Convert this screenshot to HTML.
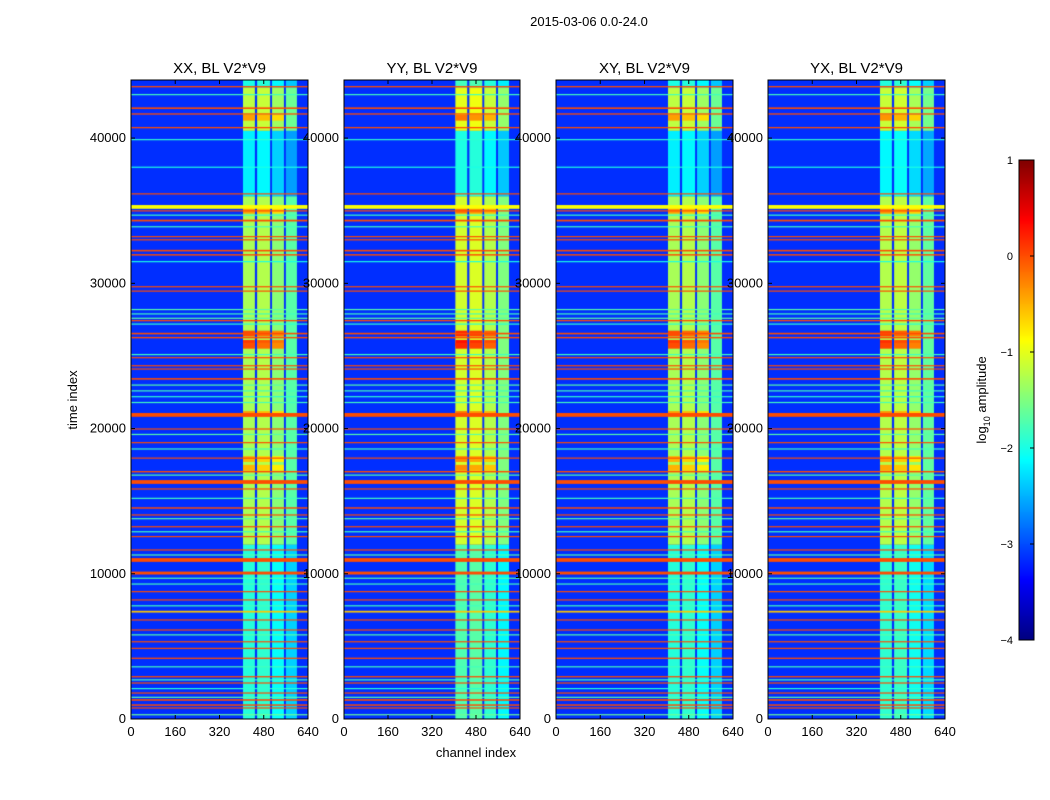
<!DOCTYPE html>
<html><head><meta charset="utf-8">
<style>
body{margin:0;background:#fff;width:1050px;height:800px;position:relative;overflow:hidden;font-family:"Liberation Sans",sans-serif}
canvas{position:absolute}
svg{position:absolute;left:0;top:0}
</style></head><body>
<canvas id="c0" width="177" height="639" style="left:131px;top:80px"></canvas>
<canvas id="c1" width="176" height="639" style="left:344px;top:80px"></canvas>
<canvas id="c2" width="177" height="639" style="left:556px;top:80px"></canvas>
<canvas id="c3" width="177" height="639" style="left:768px;top:80px"></canvas>
<canvas id="cb" width="15" height="480" style="left:1019px;top:160px"></canvas>
<svg id="ov" width="1050" height="800"></svg>
<script>
const panelTitles=["XX, BL V2*V9","YY, BL V2*V9","XY, BL V2*V9","YX, BL V2*V9"];
const panelBoost=[0,0.2,0,0.05];
const xTicks=[0,160,320,480,640];
const yTicks=[0,10000,20000,30000,40000];
const cbTicks=[1,0,-1,-2,-3,-4];
const bgLevel=-3.15;
const bandStart=[405,456,510,560];
const bandEnd=[448,503,553,600];
const bandBase=[-1.2,-1.15,-1.35,-1.6];
const segStart=[0,12000,36000,40500,43500];
const segEnd=[12000,36000,40500,43500,44000];
const segOffset=[-0.75,-0.1,-1.0,0.0,-0.8];
const hotTimes=[26540,25900,25700,21000,17900,17300,35000,41400];
const hotLevels=[0.0,0.1,0.0,-0.4,-0.5,-0.5,-0.4,-0.4];
const stripeTimes=[43540,42060,41660,40720,36160,35260,34990,34320,33220,33000,32250,31960,29770,29470,27430,26540,26260,24880,24330,24100,23420,20940,19970,19030,17970,17030,16320,15840,14530,14050,13240,12560,11640,10950,10050,8770,8200,7390,6820,6130,5320,4870,4180,2910,2480,1790,1310,960,760];
const stripeLevels=[0,0,0,0,0,-0.9,0,0,0,0,0,0,0,0,0,0,0,0,0,0,0,0,0,0,0,0,0,0,0,0,0,0,0,0,0,0,0,-0.6,0,0,0,0,0,0,0,0,0,0,0];
const stripeWidths=[90,110,90,90,80,260,80,120,70,70,110,100,70,70,90,110,100,80,70,80,110,260,80,80,70,100,260,80,100,80,80,80,80,260,200,80,80,120,80,80,80,70,90,90,80,80,110,100,80];
const thinTimes=[43000,39900,38000,34700,33900,31500,28200,27900,27600,27200,25100,23000,22600,22200,21800,19600,18600,16800,15200,13800,12900,11300,9700,9300,7800,5800,3600,2700,2100,1500,300];
const thinLevels=[-1.8,-1.9,-2.0,-1.8,-1.8,-2.0,-1.7,-1.8,-1.7,-1.9,-1.8,-1.7,-1.8,-1.9,-1.8,-1.7,-1.8,-1.7,-1.8,-1.7,-1.8,-1.7,-1.7,-1.8,-1.8,-1.7,-1.8,-1.8,-1.9,-1.7,-1.6];

const X0=[131,344,556,768],PW=[177,176,177,177],TOP=80,BOT=719,TMAX=44000;
function jet(v){let x=(v+4)/5;x=Math.max(0,Math.min(1,x));const c=t=>Math.round(255*Math.max(0,Math.min(1,1.5-Math.abs(4*x-t))));return `rgb(${c(3)},${c(2)},${c(1)})`;}
function yS(t){return (BOT-TOP)-t*(BOT-TOP)/TMAX;}
function xS(ch,w){return ch*w/640;}
for(let p=0;p<4;p++){
  const ctx=document.getElementById('c'+p).getContext('2d');const w=PW[p];
  ctx.fillStyle=jet(bgLevel);ctx.fillRect(0,0,w,639);
  for(let s=0;s<segStart.length;s++)for(let b=0;b<bandStart.length;b++){
    ctx.fillStyle=jet(bandBase[b]+segOffset[s]+panelBoost[p]);
    const y1=yS(segEnd[s]),y2=yS(segStart[s]);
    ctx.fillRect(xS(bandStart[b],w),y1,xS(bandEnd[b],w)-xS(bandStart[b],w),y2-y1);
  }
  for(let i=0;i<hotTimes.length;i++)for(let b=0;b<3;b++){
    ctx.fillStyle=jet(hotLevels[i]+panelBoost[p]-b*0.15);
    const y1=yS(hotTimes[i]+200),y2=yS(hotTimes[i]-200);
    ctx.fillRect(xS(bandStart[b],w),y1,xS(bandEnd[b],w)-xS(bandStart[b],w),y2-y1);
  }
  for(let i=0;i<thinTimes.length;i++){ctx.fillStyle=jet(thinLevels[i]);const y=yS(thinTimes[i]);ctx.fillRect(0,y-0.5,w,1.2);}
  for(let i=0;i<stripeTimes.length;i++){ctx.fillStyle=jet(stripeLevels[i]);const y1=yS(stripeTimes[i]+stripeWidths[i]/2),y2=yS(stripeTimes[i]-stripeWidths[i]/2);ctx.fillRect(0,y1,w,Math.max(1.2,y2-y1));}
}
const cb=document.getElementById('cb').getContext('2d');
for(let i=0;i<480;i++){cb.fillStyle=jet(1-5*(i+0.5)/480);cb.fillRect(0,i,15,1);}
const svg=document.getElementById('ov');const NS='http://www.w3.org/2000/svg';
function mk(tag,at,txt){const e=document.createElementNS(NS,tag);for(const k in at)e.setAttribute(k,at[k]);if(txt!==undefined)e.textContent=txt;svg.appendChild(e);return e;}
let e=mk('text',{x:589,y:26,'text-anchor':'middle','font-size':13},'2015-03-06 0.0-24.0');


for(let p=0;p<4;p++){
  const x0=X0[p],w=PW[p];
  e=mk('rect',{x:x0,y:TOP,width:w,height:BOT-TOP,fill:'none',stroke:'#000','stroke-width':1});
  
  
  e=mk('text',{x:x0+w/2,y:73,'text-anchor':'middle','font-size':15},panelTitles[p]);
  
  
  xTicks.forEach(v=>{const x=x0+xS(v,w);
    mk('line',{x1:x,x2:x,y1:BOT,y2:BOT-4,stroke:'#000'});mk('line',{x1:x,x2:x,y1:TOP,y2:TOP+4,stroke:'#000'});
    e=mk('text',{x:x,y:736,'text-anchor':'middle','font-size':13},String(v));
    
    });
  yTicks.forEach(v=>{const y=TOP+yS(v);
    mk('line',{x1:x0,x2:x0+4,y1:y,y2:y,stroke:'#000'});mk('line',{x1:x0+w,x2:x0+w-4,y1:y,y2:y,stroke:'#000'});
    e=mk('text',{x:x0-5,y:y+4,'text-anchor':'end','font-size':13},String(v));
    
    });
}
e=mk('text',{x:476,y:757,'text-anchor':'middle','font-size':13},'channel index');


e=mk('text',{x:0,y:0,'text-anchor':'middle','font-size':13,transform:'translate(77,400) rotate(-90)'},'time index');


e=mk('rect',{x:1019,y:160,width:15,height:480,fill:'none',stroke:'#000'});


cbTicks.forEach(v=>{const y=160+(1-v)/5*480;mk('line',{x1:1030,x2:1034,y1:y,y2:y,stroke:'#000'});
  e=mk('text',{x:1013,y:y+4,'font-size':11,'text-anchor':'end'},(v<0?'\u2212':'')+Math.abs(v));
  
  });
e=mk('text',{x:0,y:0,'text-anchor':'middle','font-size':13,transform:'translate(986,400) rotate(-90)'});
e.innerHTML='log<tspan font-size="9" dy="4">10</tspan><tspan dy="-4"> amplitude</tspan>';


</script>
</body></html>
